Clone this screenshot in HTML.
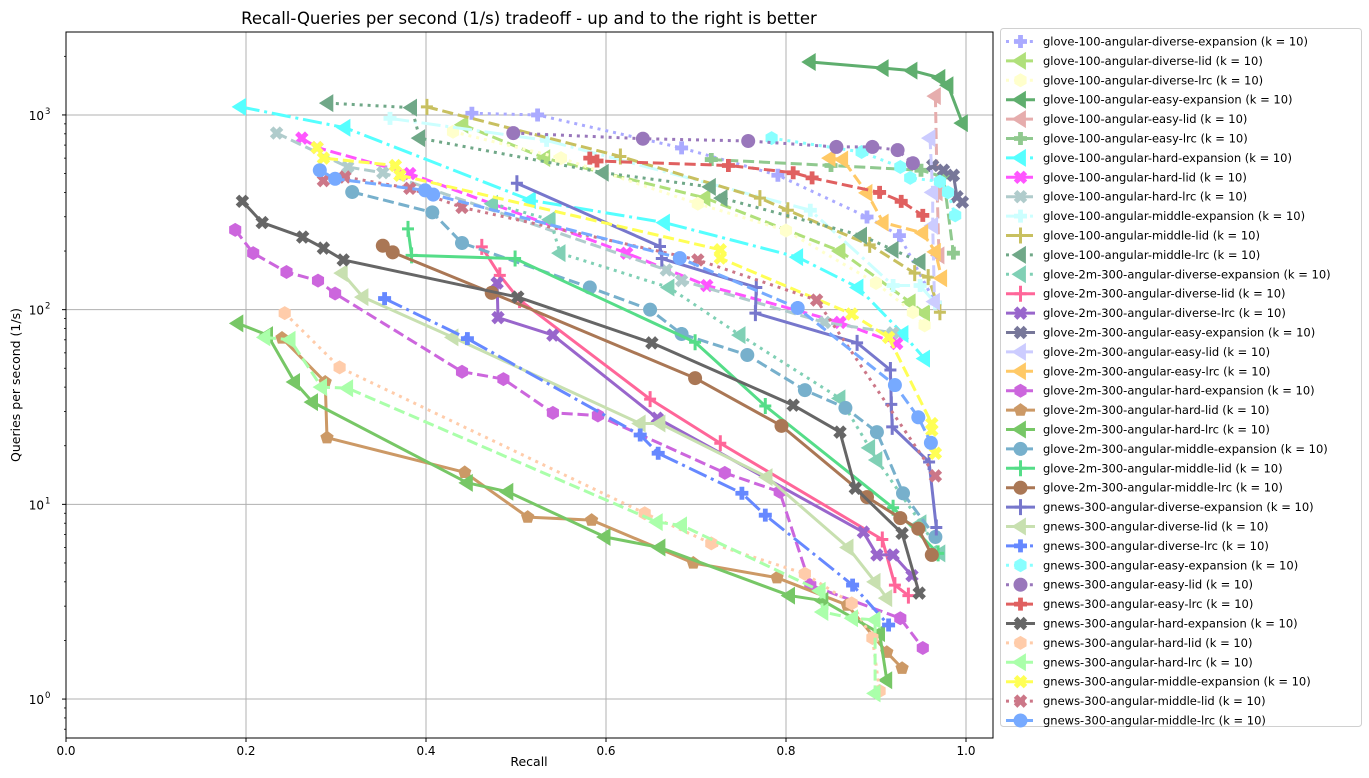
<!DOCTYPE html>
<html><head><meta charset="utf-8"><style>
body{margin:0;background:#fff;}
svg{display:block;font-family:"DejaVu Sans","Liberation Sans",sans-serif;}
</style></head><body>
<svg id="chart" width="1369" height="778" viewBox="0 0 1369 778">
<rect width="1369" height="778" fill="#fff"/>
<text x="529" y="24" font-size="16.5" text-anchor="middle">Recall-Queries per second (1/s) tradeoff - up and to the right is better</text>
<text x="529" y="766" font-size="12.5" text-anchor="middle">Recall</text>
<text x="20" y="385" font-size="12.5" text-anchor="middle" transform="rotate(-90 20 385)">Queries per second (1/s)</text>
<g id="grid"></g><g id="series"></g><g id="axes"></g><g id="legend"></g>
</svg>
<script>
const xTicks=[0,0.2,0.4,0.6,0.8,1.0];
const xTickLabels=["0.0","0.2","0.4","0.6","0.8","1.0"];
const yTicks=[1,10,100,1000];
const yTickExps=["0","1","2","3"];
const seriesNames=["glove-100-angular-diverse-expansion","glove-100-angular-diverse-lid","glove-100-angular-diverse-lrc","glove-100-angular-easy-expansion","glove-100-angular-easy-lid","glove-100-angular-easy-lrc","glove-100-angular-hard-expansion","glove-100-angular-hard-lid","glove-100-angular-hard-lrc","glove-100-angular-middle-expansion","glove-100-angular-middle-lid","glove-100-angular-middle-lrc","glove-2m-300-angular-diverse-expansion","glove-2m-300-angular-diverse-lid","glove-2m-300-angular-diverse-lrc","glove-2m-300-angular-easy-expansion","glove-2m-300-angular-easy-lid","glove-2m-300-angular-easy-lrc","glove-2m-300-angular-hard-expansion","glove-2m-300-angular-hard-lid","glove-2m-300-angular-hard-lrc","glove-2m-300-angular-middle-expansion","glove-2m-300-angular-middle-lid","glove-2m-300-angular-middle-lrc","gnews-300-angular-diverse-expansion","gnews-300-angular-diverse-lid","gnews-300-angular-diverse-lrc","gnews-300-angular-easy-expansion","gnews-300-angular-easy-lid","gnews-300-angular-easy-lrc","gnews-300-angular-hard-expansion","gnews-300-angular-hard-lid","gnews-300-angular-hard-lrc","gnews-300-angular-middle-expansion","gnews-300-angular-middle-lid","gnews-300-angular-middle-lrc"];
const seriesRecall=[
[.451,.524,.684,.791,.89,.926,.966],
[.441,.532,.71,.86,.938,.954],
[.43,.55,.702,.8,.9,.941,.954],
[.827,.908,.94,.971,.98,.996],
[.966,.968,.97],
[.717,.85,.95,.975,.986],
[.194,.31,.516,.665,.813,.88,.93,.954],
[.262,.279,.382,.623,.712,.86,.923],
[.234,.313,.352,.667,.684,.843,.919],
[.36,.534,.827,.919,.949,.966],
[.401,.616,.771,.802,.893,.943,.958,.971],
[.291,.384,.393,.597,.716,.729,.884,.919,.949],
[.474,.538,.549,.67,.749,.86,.893,.901,.95,.971],
[.462,.482,.504,.649,.727,.907,.921,.936],
[.479,.48,.541,.657,.886,.901,.919,.94],
[.963,.975,.986,.99,.996],
[.96,.963,.963,.965],
[.849,.863,.89,.908,.952,.966,.973],
[.188,.208,.245,.28,.299,.44,.486,.541,.591,.732,.793,.827,.927,.952],
[.24,.288,.29,.443,.513,.584,.697,.79,.868,.912,.929],
[.191,.224,.254,.274,.446,.491,.599,.66,.804,.841,.904,.912],
[.318,.407,.44,.582,.649,.684,.757,.821,.866,.901,.93,.966],
[.38,.384,.499,.699,.777,.919,.969],
[.352,.363,.473,.699,.795,.89,.927,.947,.962],
[.501,.66,.662,.767,.766,.879,.916,.917,.918,.959,.967],
[.307,.33,.43,.638,.66,.779,.869,.899,.912],
[.354,.446,.638,.658,.751,.777,.874,.914],
[.784,.884,.927,.938,.971,.98,.988],
[.497,.641,.758,.856,.896,.924,.941],
[.582,.59,.736,.808,.829,.904,.928,.952],
[.196,.218,.263,.286,.308,.502,.651,.808,.86,.877,.929,.948],
[.243,.304,.643,.717,.821,.873,.896,.904],
[.221,.249,.284,.313,.657,.684,.838,.841,.874,.899,.899],
[.279,.286,.366,.371,.727,.727,.873,.914,.962,.962,.966],
[.286,.31,.382,.44,.702,.834,.966],
[.282,.299,.399,.408,.682,.813,.921,.947,.961]];
const seriesQps=[
[1020,1000,677,490,299,240,108],
[890,600,375,200,109,96],
[820,600,350,255,137,97,83],
[1870,1740,1690,1550,1420,908],
[1250,400,190],
[590,550,520,480,195],
[1100,860,365,280,186,130,75,56],
[760,680,500,195,133,86,67],
[807,540,505,160,141,86,76],
[960,740,324,133,133,108],
[1100,612,374,324,215,154,147,97],
[1150,1090,760,505,427,374,240,203,176],
[350,290,195,130,74,35,19.5,16.9,8,5.6],
[210,150,112,34.7,20.6,6.6,3.85,3.4],
[137,91,74,27.7,7.2,5.5,5.5,4.3],
[550,520,490,380,357],
[760,400,270,110],
[600,590,398,280,248,198,145],
[257,195,156,141,121,48,44,29.5,28.6,14.5,11.6,3.85,2.6,1.83],
[71.5,42.5,22,14.6,8.6,8.3,5.0,4.2,3.04,1.74,1.44],
[85,74,42.5,33.5,12.9,11.6,6.8,6.0,3.4,3.2,2.18,1.25],
[402,316,220,130,100,75,58.5,38.6,31.3,23.5,11.4,6.8],
[260,190,183,68,32,9.6,5.6],
[213,197,122,44.5,25.3,10.9,8.5,7.5,5.5],
[446,211,183,130,96,67.5,49,32.6,25,16.5,7.6],
[154,116,72,26,26,13.8,6.0,4.0,3.3],
[114,71,22.7,18.3,11.4,8.8,3.85,2.4],
[760,645,540,475,455,400,305],
[807,755,735,685,685,660,565],
[600,580,550,505,475,400,360,305],
[360,280,236,207,180,116,67.5,32.3,23.5,12.1,7.1,3.5],
[96,50.5,9.0,6.3,4.4,3.1,2.06,1.1],
[72,70,40,39.5,8.1,7.8,3.6,2.8,2.6,2.55,1.07],
[680,600,550,490,203,184,95,72,26,24,18.3],
[460,480,420,335,180,112,14],
[520,470,410,390,184,102,41,28,20.7]];
const seriesColors=["#aaaaff","#b0e07a","#ffffcc","#5fae6e","#e6adad","#90c98f","#55ffff","#ff55ff","#b0cccc","#ccffff","#c8c060","#70a888","#80d0b5","#ff6699","#9966cc","#777799","#ccccff","#ffc966","#cc66dd","#cc9966","#77c766","#77b0cc","#55dd88","#aa7755","#7777cc","#c8e0b0","#6688ff","#88ffff","#9977bb","#e06060","#666666","#ffccaa","#aaffaa","#ffff55","#cc7788","#77aaff"];
const seriesDash=[":","--",":","-","--","--","-.","--","--","-.","--",":",":","-","-","-","--","--","--","-","-","--","-","-","-","-","-.",":",":","--","-",":","--","--",":","--"];
const seriesMarker=["P","<","h","<","<","P","<","X","X","P","+","<","<","+","X","X","<","<","h","p","<","o","+","o","+","<","P","h","o","P","X","h","<","X","X","o"];

const NS="http://www.w3.org/2000/svg";
const X0=66,X1=993,Y0=32,Y1=738;
const xMin=0,xMax=1.03,lMin=-0.2,lMax=3.426;
function sx(v){return X0+(v-xMin)/(xMax-xMin)*(X1-X0);}
function sy(v){return Y1-(Math.log10(v)-lMin)/(lMax-lMin)*(Y1-Y0);}
function mk(tag,attrs,parent){const e=document.createElementNS(NS,tag);for(const k in attrs)e.setAttribute(k,attrs[k]);parent.appendChild(e);return e;}
const dashMap={"-":"none","--":"11.1,4.8",":":"3,4.95","-.":"19.2,4.8,3,4.8"};
function markerPath(m,x,y){
  let r=7,pts=[];
  if(m==="<"){r=9;return `M${x-r},${y}L${x+r*0.6},${y-r}L${x+r*0.6},${y+r}Z`;}
  if(m==="P"){const a=6.5,b=2.4;return `M${x-b},${y-a}H${x+b}V${y-b}H${x+a}V${y+b}H${x+b}V${y+a}H${x-b}V${y+b}H${x-a}V${y-b}H${x-b}Z`;}
  if(m==="X"){const d=Math.SQRT1_2,a=7,b=2.5;const base=[[-b,-a],[b,-a],[b,-b],[a,-b],[a,b],[b,b],[b,a],[-b,a],[-b,b],[-a,b],[-a,-b],[-b,-b]];
    return "M"+base.map(p=>[x+(p[0]-p[1])*d,y+(p[0]+p[1])*d].join(",")).join("L")+"Z";}
  if(m==="+"){return `M${x-1.5},${y-8}H${x+1.5}V${y-1.5}H${x+6}V${y+1.5}H${x+1.5}V${y+8}H${x-1.5}V${y+1.5}H${x-6}V${y-1.5}H${x-1.5}Z`;}
  const n=m==="p"?5:(m==="h"?6:40);
  for(let i=0;i<n;i++){const t=-Math.PI/2+i*2*Math.PI/n;pts.push([x+r*Math.cos(t),y+r*Math.sin(t)]);}
  return "M"+pts.map(p=>p.join(",")).join("L")+"Z";
}
const grid=document.getElementById('grid'),axes=document.getElementById('axes'),ser=document.getElementById('series'),leg=document.getElementById('legend');
xTicks.forEach((v,i)=>{
  const x=sx(v);
  const gl=mk('line',{x1:x,x2:x,y1:Y0,y2:Y1,stroke:"#b0b0b0","stroke-width":1},grid);
  
  
  mk('line',{x1:x,x2:x,y1:Y1,y2:Y1+4,stroke:"#000"},axes);
  const t=mk('text',{x:x,y:Y1+17,"font-size":12,"text-anchor":"middle"},axes);
  t.textContent=xTickLabels[i];
  
  
});
yTicks.forEach((v,i)=>{
  const y=sy(v);
  const gl=mk('line',{x1:X0,x2:X1,y1:y,y2:y,stroke:"#b0b0b0","stroke-width":1},grid);
  
  
  mk('line',{x1:X0-4,x2:X0,y1:y,y2:y,stroke:"#000"},axes);
  const t=mk('text',{x:X0-22,y:y+5,"font-size":12,"text-anchor":"end"},axes);
  t.textContent="10";
  
  
  const s=mk('text',{x:X0-21,y:y-1,"font-size":8.5},axes);
  s.textContent=yTickExps[i];
});
for(let d=-1;d<4;d++){for(let k=2;k<10;k++){const v=k*Math.pow(10,d);const y=sy(v);if(y<Y0||y>Y1)continue;mk('line',{x1:X0-2,x2:X0,y1:y,y2:y,stroke:"#000","stroke-width":0.8},axes);}}
const fr=mk('rect',{x:X0,y:Y0,width:X1-X0,height:Y1-Y0,fill:"none",stroke:"#000","stroke-width":1},axes);


seriesNames.forEach((name,i)=>{
  const g=mk('g',{},ser);
  
  
  const pts=seriesRecall[i].map((r,j)=>[sx(r),sy(seriesQps[i][j])]);
  const pl=mk('polyline',{points:pts.map(p=>p.join(",")).join(" "),fill:"none",stroke:seriesColors[i],"stroke-width":3,"stroke-dasharray":dashMap[seriesDash[i]],"stroke-linejoin":"round"},g);
  
  
  pts.forEach(p=>{
    const m=mk('path',{d:markerPath(seriesMarker[i],p[0],p[1]),fill:seriesColors[i]},g);
    
    
  });
});
const lb=mk('rect',{x:1000.5,y:28.5,width:361,height:698,fill:"#fff",stroke:"#d0d0d0",rx:3},leg);


seriesNames.forEach((name,i)=>{
  const y=41.5+i*19.4;
  const g=mk('g',{},leg);
  
  
  mk('line',{x1:1006,x2:1035,y1:y,y2:y,stroke:seriesColors[i],"stroke-width":3,"stroke-dasharray":dashMap[seriesDash[i]]},g);
  mk('path',{d:markerPath(seriesMarker[i],1020.5,y),fill:seriesColors[i]},g);
  const t=mk('text',{x:1043,y:y+4,"font-size":11.5},g);
  t.textContent=name+" (k = 10)";
});
</script>
</body></html>
